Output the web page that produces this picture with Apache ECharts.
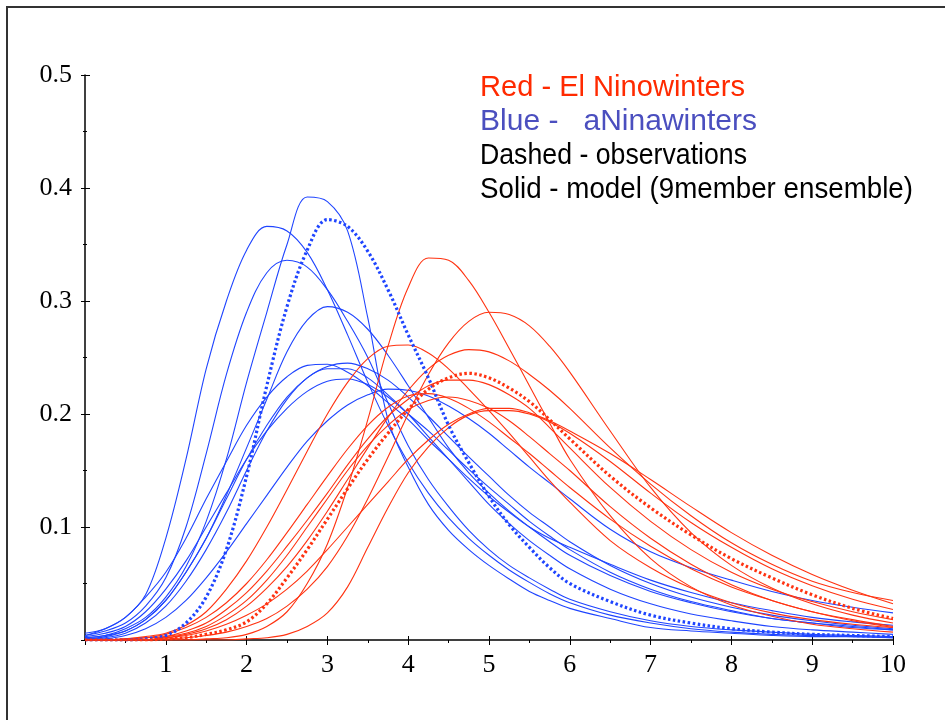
<!DOCTYPE html>
<html>
<head>
<meta charset="utf-8">
<script src="https://cdn.jsdelivr.net/npm/echarts@6/dist/echarts.min.js"></script>
<style>
  html, body { margin: 0; background: #fff; }
  #chart { width: 945px; height: 720px; }
</style>
</head>
<body>
<div id="chart"></div>
<script>
// x positions shared by every curve (finer where the peaks are)
const xs = [0, 0.25, 0.5, 0.75, 1, 1.25, 1.5, 1.75, 2, 2.25, 2.5, 2.75, 3, 3.25, 3.5, 3.75, 4, 4.25, 4.5, 4.75, 5, 5.25, 5.5, 5.75, 6,
  6.5, 7, 7.5, 8, 8.5, 9, 9.5, 10]

// La Nina winters, model members (solid blue)
const blueModel = [
  [0.006, 0.01, 0.02, 0.04, 0.09, 0.16, 0.24, 0.30, 0.345, 0.366, 0.362, 0.343, 0.31, 0.27, 0.228, 0.19, 0.157, 0.13, 0.108, 0.09, 0.075, 0.062, 0.051, 0.041, 0.033,
    0.022, 0.015, 0.01, 0.007, 0.005, 0.004, 0.003, 0.002],
  [0.002, 0.004, 0.01, 0.02, 0.038, 0.065, 0.105, 0.16, 0.228, 0.29, 0.35, 0.392, 0.388, 0.362, 0.285, 0.195, 0.153, 0.12, 0.097, 0.08, 0.066, 0.054, 0.043, 0.035, 0.028,
    0.019, 0.011, 0.008, 0.006, 0.004, 0.003, 0.003, 0.002],
  [0.004, 0.008, 0.015, 0.03, 0.055, 0.1, 0.165, 0.235, 0.29, 0.325, 0.336, 0.33, 0.31, 0.282, 0.25, 0.21, 0.172, 0.142, 0.118, 0.097, 0.08, 0.066, 0.055, 0.045, 0.036,
    0.025, 0.017, 0.012, 0.009, 0.007, 0.005, 0.004, 0.003],
  [0.002, 0.004, 0.008, 0.018, 0.035, 0.06, 0.09, 0.128, 0.17, 0.213, 0.255, 0.283, 0.295, 0.29, 0.275, 0.252, 0.225, 0.197, 0.17, 0.148, 0.13, 0.114, 0.1, 0.087, 0.075,
    0.057, 0.043, 0.033, 0.025, 0.019, 0.015, 0.012, 0.009],
  [0.004, 0.01, 0.02, 0.038, 0.06, 0.09, 0.125, 0.158, 0.19, 0.215, 0.233, 0.243, 0.244, 0.237, 0.225, 0.21, 0.195, 0.177, 0.16, 0.143, 0.127, 0.113, 0.1, 0.09, 0.082,
    0.067, 0.053, 0.042, 0.033, 0.026, 0.02, 0.016, 0.013],
  [0.001, 0.003, 0.008, 0.018, 0.035, 0.06, 0.09, 0.125, 0.16, 0.19, 0.215, 0.232, 0.242, 0.245, 0.24, 0.23, 0.215, 0.198, 0.18, 0.162, 0.145, 0.128, 0.113, 0.1, 0.087,
    0.066, 0.05, 0.038, 0.029, 0.022, 0.017, 0.013, 0.01],
  [0.003, 0.006, 0.012, 0.025, 0.045, 0.07, 0.1, 0.13, 0.16, 0.185, 0.205, 0.22, 0.229, 0.231, 0.226, 0.215, 0.2, 0.185, 0.168, 0.151, 0.135, 0.12, 0.105, 0.092, 0.08,
    0.06, 0.045, 0.034, 0.026, 0.019, 0.015, 0.011, 0.009],
  [0, 0.001, 0.004, 0.01, 0.02, 0.035, 0.055, 0.078, 0.103, 0.128, 0.153, 0.176, 0.194, 0.208, 0.217, 0.222, 0.221, 0.216, 0.207, 0.196, 0.183, 0.168, 0.153, 0.139, 0.125,
    0.098, 0.078, 0.064, 0.053, 0.043, 0.035, 0.029, 0.024],
  [0.001, 0.002, 0.006, 0.015, 0.03, 0.052, 0.08, 0.113, 0.15, 0.185, 0.213, 0.232, 0.24, 0.24, 0.232, 0.217, 0.2, 0.18, 0.16, 0.14, 0.12, 0.103, 0.088, 0.075, 0.063,
    0.045, 0.032, 0.023, 0.017, 0.012, 0.009, 0.007, 0.005]
]

// El Nino winters, model members (solid red)
const redModel = [
  [0, 0, 0, 0, 0, 0, 0.001, 0.002, 0.005, 0.012, 0.025, 0.05, 0.085, 0.135, 0.195, 0.26, 0.312, 0.338, 0.336, 0.318, 0.29, 0.258, 0.225, 0.192, 0.16,
    0.11, 0.072, 0.047, 0.031, 0.021, 0.014, 0.01, 0.007],
  [0, 0, 0, 0, 0.001, 0.002, 0.004, 0.007, 0.012, 0.019, 0.03, 0.045, 0.065, 0.092, 0.125, 0.162, 0.2, 0.235, 0.263, 0.282, 0.29, 0.288, 0.278, 0.26, 0.237,
    0.185, 0.135, 0.095, 0.066, 0.046, 0.032, 0.022, 0.015],
  [0, 0, 0.001, 0.003, 0.006, 0.013, 0.025, 0.045, 0.07, 0.1, 0.133, 0.167, 0.2, 0.228, 0.249, 0.26, 0.261, 0.254, 0.24, 0.222, 0.203, 0.183, 0.162, 0.141, 0.122,
    0.088, 0.064, 0.046, 0.033, 0.024, 0.018, 0.014, 0.011],
  [0, 0, 0, 0, 0.002, 0.005, 0.01, 0.018, 0.03, 0.046, 0.065, 0.088, 0.114, 0.142, 0.17, 0.197, 0.221, 0.24, 0.252, 0.257, 0.255, 0.247, 0.235, 0.221, 0.205,
    0.17, 0.138, 0.11, 0.086, 0.067, 0.052, 0.042, 0.035],
  [0, 0, 0.001, 0.002, 0.003, 0.008, 0.015, 0.027, 0.042, 0.061, 0.083, 0.106, 0.13, 0.155, 0.178, 0.198, 0.213, 0.225, 0.23, 0.23, 0.226, 0.217, 0.205, 0.188, 0.17,
    0.135, 0.105, 0.08, 0.06, 0.045, 0.034, 0.025, 0.018],
  [0, 0, 0.001, 0.002, 0.005, 0.011, 0.02, 0.033, 0.05, 0.071, 0.095, 0.12, 0.145, 0.169, 0.19, 0.206, 0.216, 0.218, 0.214, 0.205, 0.193, 0.179, 0.165, 0.15, 0.135,
    0.107, 0.083, 0.063, 0.047, 0.035, 0.025, 0.018, 0.012],
  [0, 0, 0, 0, 0.003, 0.006, 0.012, 0.022, 0.035, 0.053, 0.075, 0.1, 0.125, 0.15, 0.172, 0.19, 0.204, 0.212, 0.215, 0.212, 0.205, 0.194, 0.18, 0.165, 0.15,
    0.118, 0.09, 0.067, 0.049, 0.035, 0.025, 0.017, 0.011],
  [0, 0, 0, 0, 0.002, 0.004, 0.008, 0.014, 0.022, 0.032, 0.045, 0.061, 0.08, 0.1, 0.12, 0.14, 0.16, 0.177, 0.191, 0.2, 0.205, 0.205, 0.201, 0.194, 0.185,
    0.165, 0.142, 0.118, 0.095, 0.075, 0.058, 0.044, 0.032],
  [0, 0, 0, 0, 0, 0, 0, 0, 0.001, 0.002, 0.005, 0.012, 0.024, 0.047, 0.082, 0.117, 0.148, 0.171, 0.188, 0.199, 0.203, 0.203, 0.2, 0.193, 0.183,
    0.158, 0.13, 0.104, 0.082, 0.063, 0.048, 0.036, 0.027]
]

// observations (dotted)
const blueObs = [0, 0, 0, 0.001, 0.004, 0.015, 0.038, 0.08, 0.145, 0.225, 0.295, 0.345, 0.372, 0.366, 0.344, 0.31, 0.27, 0.232, 0.19, 0.157, 0.127, 0.102, 0.082, 0.064, 0.05,
  0.034, 0.022, 0.015, 0.01, 0.007, 0.005, 0.004, 0.003]
const redObs = [0, 0, 0, 0, 0.001, 0.002, 0.005, 0.009, 0.016, 0.032, 0.055, 0.08, 0.107, 0.134, 0.16, 0.183, 0.204, 0.222, 0.232, 0.236, 0.232, 0.223, 0.211, 0.195, 0.178,
  0.145, 0.117, 0.093, 0.072, 0.055, 0.04, 0.028, 0.019]

const legendLines = [
  { text: 'Red - El Ninowinters', color: '#ff2a00', width: 265 },
  { text: 'Blue -   aNinawinters', color: '#4b4fbf', width: 277 },
  { text: 'Dashed - observations', color: '#000000', width: 267 },
  { text: 'Solid - model (9member ensemble)', color: '#000000', width: 433 }
]

const RED = '#ff3311'
const BLUE = '#1f45ff'

function curve(ys, color, dotted) {
  return {
    type: 'line',
    data: xs.map((x, i) => [x, ys[i]]),
    smooth: 0.35,
    symbol: 'none',
    silent: true,
    lineStyle: {
      color: color,
      width: dotted ? 3.2 : 1.1,
      type: dotted ? [2.5, 2.5] : 'solid'
    }
  }
}

const series = []
blueModel.forEach(ys => series.push(curve(ys, BLUE, false)))
redModel.forEach(ys => series.push(curve(ys, RED, false)))
series.push(curve(blueObs, BLUE, true))
series.push(curve(redObs, RED, true))

const font = '29px "Liberation Sans", Arial, sans-serif'
const measure = document.createElement('canvas').getContext('2d')
measure.font = font

const graphics = [
  {
    type: 'polyline',
    shape: { points: [[7, 720], [7, 7], [945, 7]] },
    style: { stroke: '#333', lineWidth: 2, fill: null },
    silent: true
  }
]
legendLines.forEach((l, i) => {
  const natural = measure.measureText(l.text).width
  graphics.push({
    type: 'text',
    x: 480,
    y: 88 + i * 34,
    scaleX: l.width / natural,
    silent: true,
    style: {
      text: l.text,
      fill: l.color,
      font: font,
      verticalAlign: 'middle'
    }
  })
})

const labelFont = { fontFamily: '"Liberation Serif", "Times New Roman", serif', fontSize: 26, color: '#000' }

const chart = echarts.init(document.getElementById('chart'))
chart.setOption({
  animation: false,
  backgroundColor: '#fff',
  grid: { left: 85, right: 52, top: 75, bottom: 80 },
  xAxis: [
    {
      type: 'value', min: 0, max: 10, interval: 1,
      axisLine: { lineStyle: { color: '#000', width: 1.5 } },
      axisTick: { length: 5, lineStyle: { color: '#000' } },
      minorTick: { show: true, splitNumber: 2, length: 3, lineStyle: { color: '#000' } },
      splitLine: { show: false },
      axisLabel: Object.assign({ margin: 12, formatter: v => v === 0 ? '' : String(v) }, labelFont)
    },
    {
      type: 'value', min: 0, max: 10, interval: 1, position: 'bottom',
      axisLine: { show: false },
      axisTick: { inside: true, length: 4, lineStyle: { color: '#000' } },
      axisLabel: { show: false },
      splitLine: { show: false }
    }
  ],
  yAxis: [
    {
      type: 'value', min: 0, max: 0.5, interval: 0.1,
      axisLine: { show: true, lineStyle: { color: '#000', width: 1.5 } },
      axisTick: { show: true, length: 4, lineStyle: { color: '#000' } },
      minorTick: { show: true, splitNumber: 2, length: 2, lineStyle: { color: '#000' } },
      splitLine: { show: false },
      axisLabel: Object.assign({ margin: 13, padding: [0, 0, 8, 0], formatter: v => v === 0 ? '' : v.toFixed(1) }, labelFont)
    },
    {
      type: 'value', min: 0, max: 0.5, interval: 0.1, position: 'left',
      axisLine: { show: false },
      axisTick: { show: true, inside: true, length: 5, lineStyle: { color: '#000' } },
      minorTick: { show: true, splitNumber: 2, length: 2, lineStyle: { color: '#000' } },
      axisLabel: { show: false },
      splitLine: { show: false }
    }
  ],
  series: series,
  graphic: graphics
})
</script>
</body>
</html>
